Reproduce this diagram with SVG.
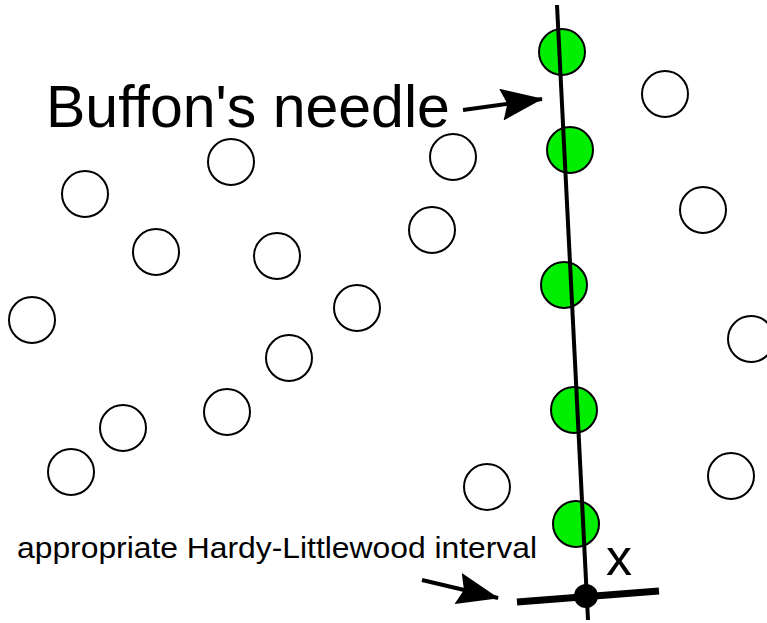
<svg xmlns="http://www.w3.org/2000/svg" width="767" height="623" viewBox="0 0 767 623">
  <style>
    .pt { fill: #ffffff; stroke: #000000; stroke-width: 2; }
    .hit { fill: #00ee00; stroke: #000000; stroke-width: 2; }
    .lbl { font-family: "Liberation Sans", Arial, sans-serif; fill: #000000; }
    .arrow { stroke: #000000; stroke-width: 4; fill: none; marker-end: url(#head); }
  </style>
  <defs>
    <marker id="head" markerUnits="userSpaceOnUse" viewBox="0 0 42 32" refX="41" refY="16" markerWidth="42" markerHeight="32" orient="auto">
      <path d="M0,0 L42,16 L0,32 L6,16 Z" fill="#000000"/>
    </marker>
  </defs>
  <rect width="767" height="623" fill="#ffffff"/>

  <!-- scattered points -->
  <g id="points">
    <circle class="pt" cx="231" cy="162" r="23"/>
    <circle class="pt" cx="85" cy="194" r="23"/>
    <circle class="pt" cx="156" cy="252" r="23"/>
    <circle class="pt" cx="277" cy="256" r="23"/>
    <circle class="pt" cx="32" cy="320" r="23"/>
    <circle class="pt" cx="357" cy="308" r="23"/>
    <circle class="pt" cx="289" cy="358" r="23"/>
    <circle class="pt" cx="227" cy="412" r="23"/>
    <circle class="pt" cx="123" cy="428" r="23"/>
    <circle class="pt" cx="71" cy="472" r="23"/>
    <circle class="pt" cx="453" cy="157" r="23"/>
    <circle class="pt" cx="432" cy="230" r="23"/>
    <circle class="pt" cx="665" cy="94" r="23"/>
    <circle class="pt" cx="703" cy="210" r="23"/>
    <circle class="pt" cx="751" cy="339" r="23"/>
    <circle class="pt" cx="731" cy="476" r="23"/>
    <circle class="pt" cx="487" cy="487" r="23"/>
  </g>

  <!-- points hit by the needle -->
  <g id="hits">
    <circle class="hit" cx="562" cy="52" r="23"/>
    <circle class="hit" cx="570" cy="150" r="23"/>
    <circle class="hit" cx="564" cy="285" r="23"/>
    <circle class="hit" cx="574" cy="410" r="23"/>
    <circle class="hit" cx="576" cy="524" r="23"/>
  </g>

  <!-- needle and interval -->
  <g id="needle">
    <line x1="557" y1="5" x2="588" y2="620" stroke="#000000" stroke-width="4"/>
  </g>
  <g id="interval">
    <line x1="517" y1="602" x2="659" y2="591" stroke="#000000" stroke-width="7"/>
    <circle cx="586" cy="596" r="12" fill="#000000"/>
  </g>

  <!-- connectors -->
  <g id="connectors">
    <line class="arrow" x1="463" y1="110" x2="542" y2="99"/>
    <line class="arrow" x1="422" y1="580" x2="498" y2="598"/>
  </g>

  <!-- labels -->
  <g id="label-needle">
    <text class="lbl" x="46" y="127" font-size="59">Buffon's needle</text>
  </g>
  <g id="label-interval">
    <text class="lbl" x="17" y="558" font-size="29" textLength="520" lengthAdjust="spacingAndGlyphs">appropriate Hardy-Littlewood interval</text>
  </g>
  <g id="label-x">
    <text class="lbl" x="606" y="575" font-size="52">x</text>
  </g>
</svg>
